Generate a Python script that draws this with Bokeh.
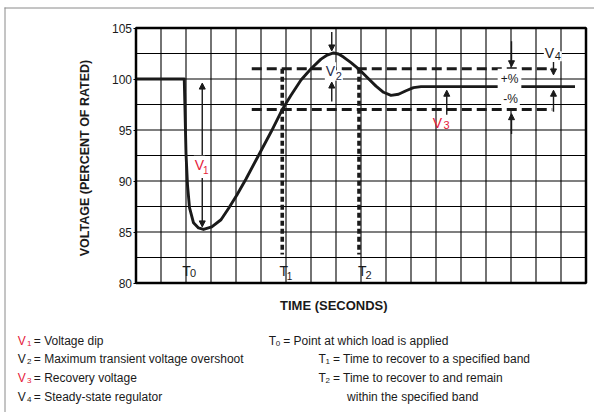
import math
from bokeh.plotting import figure
from bokeh.models import Label, Arrow, NormalHead, FixedTicker, Range1d
from bokeh.embed import file_html
from bokeh.resources import INLINE

# ---------------- data ----------------
time_s = [0, 1.93, 1.96, 2.0, 2.06, 2.14, 2.3, 2.5, 2.7, 3.03, 3.4, 3.7, 4.03,
          4.4, 4.9, 5.4, 5.85, 6.2, 6.6, 7.0, 7.4, 7.65, 7.9, 8.1, 8.3, 8.6,
          8.9, 9.25, 9.6, 9.9, 10.2, 10.5, 10.8, 11.1, 11.4, 17.56]
voltage_pct = [100, 100, 97.0, 92.7, 89.6, 87.4, 85.9, 85.4, 85.25, 85.5, 86.2,
               87.3, 88.6, 90.2, 92.5, 94.8, 97.0, 98.4, 99.9, 101.0, 101.95,
               102.35, 102.55, 102.45, 102.15, 101.6, 101.0, 100.15, 99.3, 98.7,
               98.4, 98.5, 98.85, 99.15, 99.25, 99.25]

x_min, x_max = 0, 18
y_min, y_max = 80, 105
y_ticks = [80, 85, 90, 95, 100, 105]
y_grid = [80, 82.5, 85, 87.5, 90, 92.5, 95, 97.5, 100, 102.5, 105]
x_grid = list(range(0, 19))

band_upper = 101.0
band_lower = 97.0
band_start = 4.63
band_end = 16.65

t_recover = [5.85, 8.92]        # T1, T2 dotted verticals
t_bottom = 82.8

arrow_x = [2.65, 2.65, 7.83, 7.83, 12.43, 15.02, 15.02, 16.7, 16.7]
arrow_from = [92.5, 90.3, 104.6, 97.8, 96.5, 103.7, 94.6, 101.9, 96.8]
arrow_to = [99.6, 85.5, 102.75, 99.7, 98.9, 101.2, 96.6, 100.4, 98.9]

legend_left_sym = ["V", "V", "V", "V"]
legend_left_sub = ["1", "2", "3", "4"]
legend_left_red = [True, False, True, False]
legend_left_text = ["= Voltage dip", "= Maximum transient voltage overshoot",
                    "= Recovery voltage", "= Steady-state regulator"]
legend_right_sym = ["T", "T", "T", ""]
legend_right_sub = ["0", "1", "2", ""]
legend_right_text = ["= Point at which load is applied",
                     "= Time to recover to a specified band",
                     "= Time to recover to and remain",
                     "within the specified band"]

RED = "#e5203a"
INK = "#1a1a1a"
NAVY = "#262a48"
GRAY = "#8a8a8a"
FONT = "Liberation Sans"

W, H = 594, 412
# chart frame in page pixels: x 135.5..585.5 (0..18), y 27.5..282.5 (105..80)
def X(px):
    return (px - 135.5) / 25.0

def Y(py):
    return 105 - (py - 27.5) / 10.2

p = figure(width=W, height=H, x_range=Range1d(X(0), X(W)), y_range=Range1d(Y(H), Y(0)),
           x_axis_type=None, output_backend="svg", toolbar_location=None,
           min_border=0, min_border_left=0, min_border_right=0,
           min_border_top=0, min_border_bottom=0)
p.outline_line_color = None
p.background_fill_color = "white"
p.border_fill_color = "white"
p.grid.visible = False

ya = p.yaxis[0]
ya.fixed_location = x_min
ya.bounds = (y_min, y_max)
ya.ticker = FixedTicker(ticks=y_ticks)
ya.axis_line_color = None
ya.major_tick_out = 3
ya.major_tick_in = 0
ya.minor_tick_out = 0
ya.minor_tick_in = 0
ya.major_tick_line_color = "black"
ya.major_label_standoff = 1
ya.major_label_text_font = FONT
ya.major_label_text_font_size = "12px"
ya.major_label_text_color = INK

# page border lines (top and left)
p.line([X(4.5), X(4.5)], [Y(7), Y(H)], line_color=GRAY, line_width=1)
p.line([X(4), X(W)], [Y(7.5), Y(7.5)], line_color=GRAY, line_width=1)

# grid
p.segment(x0=x_grid, y0=[y_min] * len(x_grid), x1=x_grid, y1=[y_max] * len(x_grid),
          line_color="black", line_width=1.1)
p.segment(x0=[x_min] * len(y_grid), y0=y_grid, x1=[x_max] * len(y_grid), y1=y_grid,
          line_color="black", line_width=1.1)

# mask of grid line inside the band at the middle arrows
p.quad(left=[arrow_x[5] - 0.09], right=[arrow_x[5] + 0.09],
       bottom=[band_lower], top=[band_upper], fill_color="white", line_color=None)

# tolerance band (dashed)
for yb in (band_upper, band_lower):
    p.line([band_start, band_end], [yb, yb], line_color=INK, line_width=3,
           line_dash="10 5", line_cap="butt")

# T1 / T2 dotted verticals
for tx in t_recover:
    p.line([tx, tx], [band_upper, t_bottom], line_color=INK, line_width=3.6,
           line_dash="5 3", line_cap="butt")

# response curve
p.line(time_s, voltage_pct, line_color=INK, line_width=2.9, line_join="round")

# chart frame
p.quad(left=[x_min], right=[x_max], bottom=[y_min], top=[y_max],
       fill_color=None, line_color="black", line_width=2.5)

# arrows
for xa, y0, y1 in zip(arrow_x, arrow_from, arrow_to):
    p.add_layout(Arrow(end=NormalHead(size=6, fill_color=INK, line_color=INK, line_width=1),
                       x_start=xa, y_start=y0, x_end=xa, y_end=y1,
                       line_color=INK, line_width=1.4))


def lab(px, py, text, size, color=INK, align="center", bg=None, pad=0,
        bold=False, angle=0.0):
    kw = {}
    if bg is not None:
        kw["background_fill_color"] = bg
        kw["padding"] = pad
    p.add_layout(Label(x=X(px), y=Y(py), text=text, text_font=FONT,
                       text_font_size=f"{size}px", text_color=color,
                       text_align=align, text_baseline="middle",
                       text_font_style="bold" if bold else "normal",
                       angle=angle, **kw))

# T markers inside plot
lab(186, 270.5, "T", 14)
lab(192.5, 272, "0", 11)
lab(283.3, 270.5, "T", 14)
lab(289, 275, "1", 10)
lab(361.7, 270.5, "T", 14)
lab(368, 274.5, "2", 11)

# V markers
lab(199, 164.2, "V", 14, color=RED, bg="white", pad=1)
lab(205.3, 169, "1", 10, color=RED)
lab(330, 70.8, "V", 14, color=NAVY, bg="white", pad=1)
lab(338.3, 75, "2", 11, color=NAVY, bg="white", pad=1)
lab(437, 122.3, "V", 14, color=RED)
lab(446, 124.5, "3", 11, color=RED)
lab(549, 52.5, "V", 14, bg="white", pad=1)
lab(557.3, 55.8, "4", 11, bg="white", pad=1)

# band labels
lab(509, 78.3, "+%", 12, bg="white", pad=3)
lab(510, 98.3, "-%", 12, bg="white", pad=2)

# axis titles
lab(333.3, 305, "TIME (SECONDS)", 13, bold=True)
lab(84.5, 157.5, "VOLTAGE (PERCENT OF RATED)", 12.5, bold=True, angle=math.pi / 2)

# legend
row_py = [340.7, 358.3, 377.3, 396.7]
for i, py in enumerate(row_py):
    c = RED if legend_left_red[i] else INK
    lab(17.3, py, legend_left_sym[i], 12, color=c, align="left")
    lab(26.5, py + 2.3, legend_left_sub[i], 8, color=c, align="left")
    lab(33.3, py, legend_left_text[i], 12, align="left")

right_x = [268.3, 318, 318, 346.6]
for i, py in enumerate(row_py):
    x0 = right_x[i]
    if legend_right_sym[i]:
        lab(x0, py, legend_right_sym[i], 12, align="left")
        lab(x0 + 7, py + 2.3, legend_right_sub[i], 8, align="left")
        lab(x0 + 14.4, py, legend_right_text[i], 12, align="left")
    else:
        lab(x0, py, legend_right_text[i], 12, align="left")

open("out.html", "w").write(file_html(p, INLINE))
